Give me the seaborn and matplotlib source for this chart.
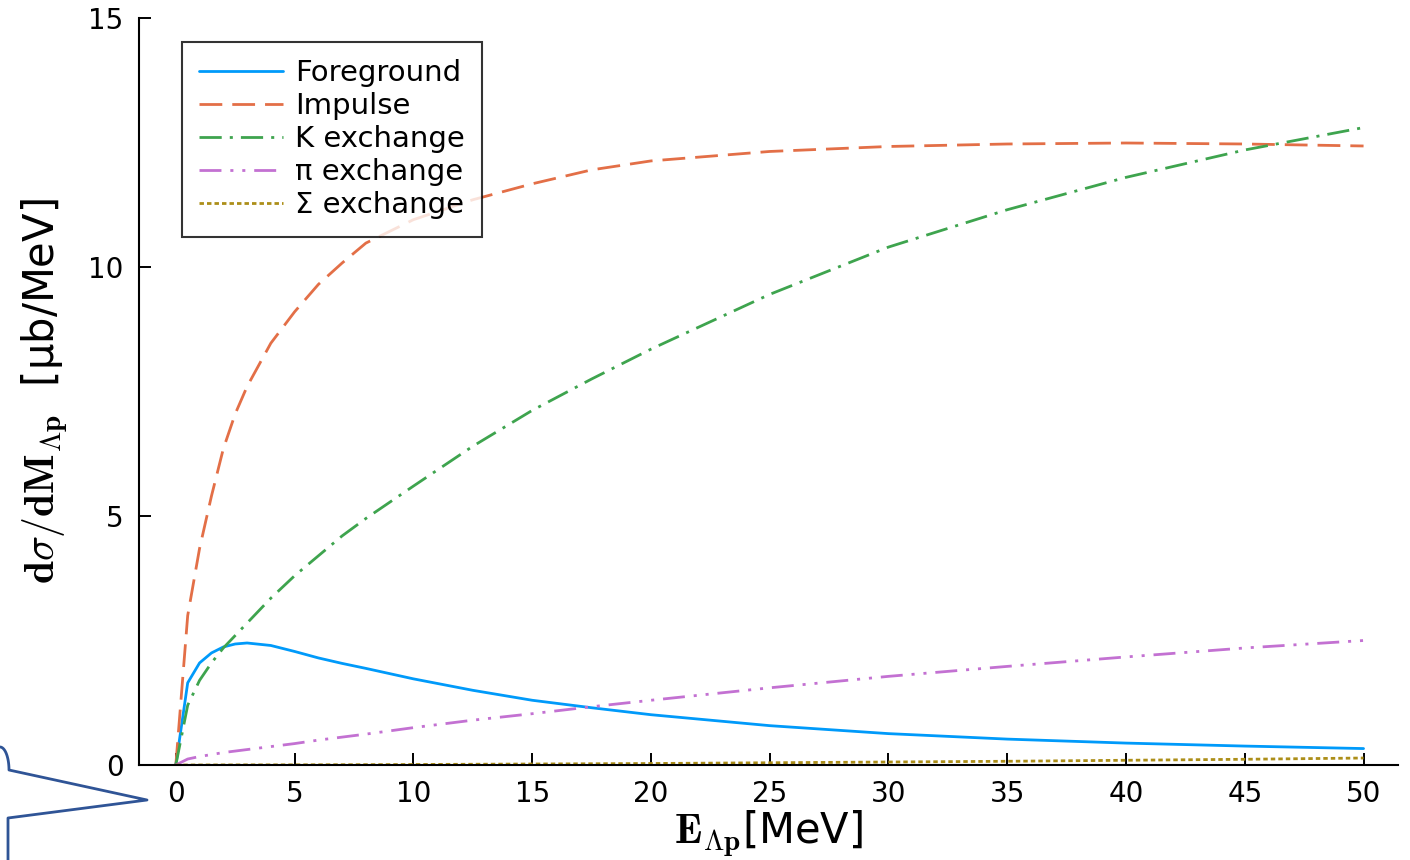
import numpy as np
import pandas as pd
import seaborn as sns
import matplotlib.pyplot as plt
from matplotlib.lines import Line2D

# energy grid [MeV] and curves
energy = [0, 0.5, 1, 1.5, 2, 2.5, 3, 4, 5, 6, 7, 8, 10, 12.5, 15, 17.5,
          20, 25, 30, 35, 40, 45, 50]

foreground = [0, 1.65, 2.05, 2.25, 2.37, 2.43, 2.45, 2.40, 2.28, 2.15, 2.04,
              1.94, 1.73, 1.50, 1.30, 1.15, 1.01, 0.79, 0.63, 0.52, 0.44,
              0.38, 0.33]
impulse = [0, 3.0, 4.35, 5.4, 6.35, 7.05, 7.6, 8.47, 9.1, 9.65, 10.08, 10.48,
           10.95, 11.35, 11.67, 11.95, 12.13, 12.32, 12.42, 12.47, 12.49,
           12.47, 12.43]
k_exch = [0, 1.2, 1.7, 2.05, 2.35, 2.6, 2.85, 3.35, 3.8, 4.2, 4.6, 4.95, 5.6,
          6.4, 7.12, 7.75, 8.35, 9.45, 10.4, 11.15, 11.8, 12.35, 12.8]
pi_exch = [0, 0.12, 0.17, 0.21, 0.25, 0.28, 0.31, 0.37, 0.43, 0.5, 0.56, 0.62,
           0.75, 0.9, 1.03, 1.17, 1.3, 1.55, 1.78, 1.98, 2.17, 2.35, 2.5]
sigma_exch = [0, 0, 0.001, 0.001, 0.002, 0.002, 0.003, 0.003, 0.004, 0.005,
              0.006, 0.007, 0.01, 0.015, 0.02, 0.025, 0.03, 0.045, 0.06,
              0.075, 0.095, 0.115, 0.14]

labels = ["Foreground", "Impulse", "K exchange", "π exchange", "Σ exchange"]
series = [foreground, impulse, k_exch, pi_exch, sigma_exch]

df = pd.concat(
    [pd.DataFrame({"E": energy, "xs": s, "curve": lab}) for lab, s in zip(labels, series)],
    ignore_index=True,
)

colors = ["#009AFA", "#E36F47", "#3EA44E", "#C371D2", "#AC8E18"]
dashes = {
    "Foreground": "",
    "Impulse": (8.2, 3.6),
    "K exchange": (8.0, 2.9, 1.1, 2.9),
    "π exchange": (7.9, 3.2, 1.1, 3.2, 1.1, 3.2),
    "Σ exchange": (1.6, 1.1),
}

sns.set_theme(style="ticks")
plt.rcParams["font.family"] = ["DejaVu Sans"]
plt.rcParams["mathtext.fontset"] = "cm"
plt.rcParams["text.color"] = "black"
plt.rcParams["axes.labelcolor"] = "black"

fig = plt.figure(figsize=(14.1, 8.6), dpi=100)
ax = fig.add_axes([139 / 1410, 1 - 765 / 860, (1398 - 139) / 1410, (765 - 18) / 860])

sns.lineplot(
    data=df, x="E", y="xs", hue="curve", style="curve",
    hue_order=labels, style_order=labels,
    palette=dict(zip(labels, colors)), dashes=dashes,
    linewidth=2.0, ax=ax, sort=False,
)

ax.set_xlim(-1.55, 51.45)
ax.set_ylim(0, 15)
ax.set_xticks(range(0, 51, 5))
ax.set_yticks([0, 5, 10, 15])
ax.tick_params(direction="in", length=8.5, width=1.4, labelsize=20, pad=11,
               colors="black")
for side in ["top", "right"]:
    ax.spines[side].set_visible(False)
for side in ["left", "bottom"]:
    ax.spines[side].set_linewidth(1.5)
    ax.spines[side].set_color("black")

ax.set_xlabel(r"$\mathbf{E}_{\mathbf{\Lambda p}}$[MeV]", fontsize=30, labelpad=0)
ax.set_ylabel(r"$\mathbf{d}\sigma/\mathbf{dM}_{\mathbf{\Lambda p}}$  [μb/MeV]",
              fontsize=30, labelpad=13)

handles, labs = ax.get_legend_handles_labels()
leg = ax.legend(handles, labs, loc="upper left", bbox_to_anchor=(0.034, 0.968),
                borderaxespad=0, fontsize=21, frameon=True, fancybox=False,
                edgecolor="black", handlelength=2.88, labelspacing=0.17,
                handletextpad=0.4, borderpad=0.6)
leg.get_frame().set_linewidth(1.5)
for txt in leg.get_texts():
    txt.set_color("black")

# blue callout outline at the lower-left edge
W, H = 1410, 860
t = np.linspace(0, np.pi / 2, 20)
ax_x = list(9 * np.cos(t)[::-1]) + [147, 8, 8]
ax_y = list(770 - 23 * np.sin(t)[::-1]) + [800, 818, 860]
fig.add_artist(Line2D([x / W for x in ax_x], [1 - y / H for y in ax_y],
                      color="#2F5496", linewidth=2, transform=fig.transFigure))

fig.savefig("out.png", dpi=100)
